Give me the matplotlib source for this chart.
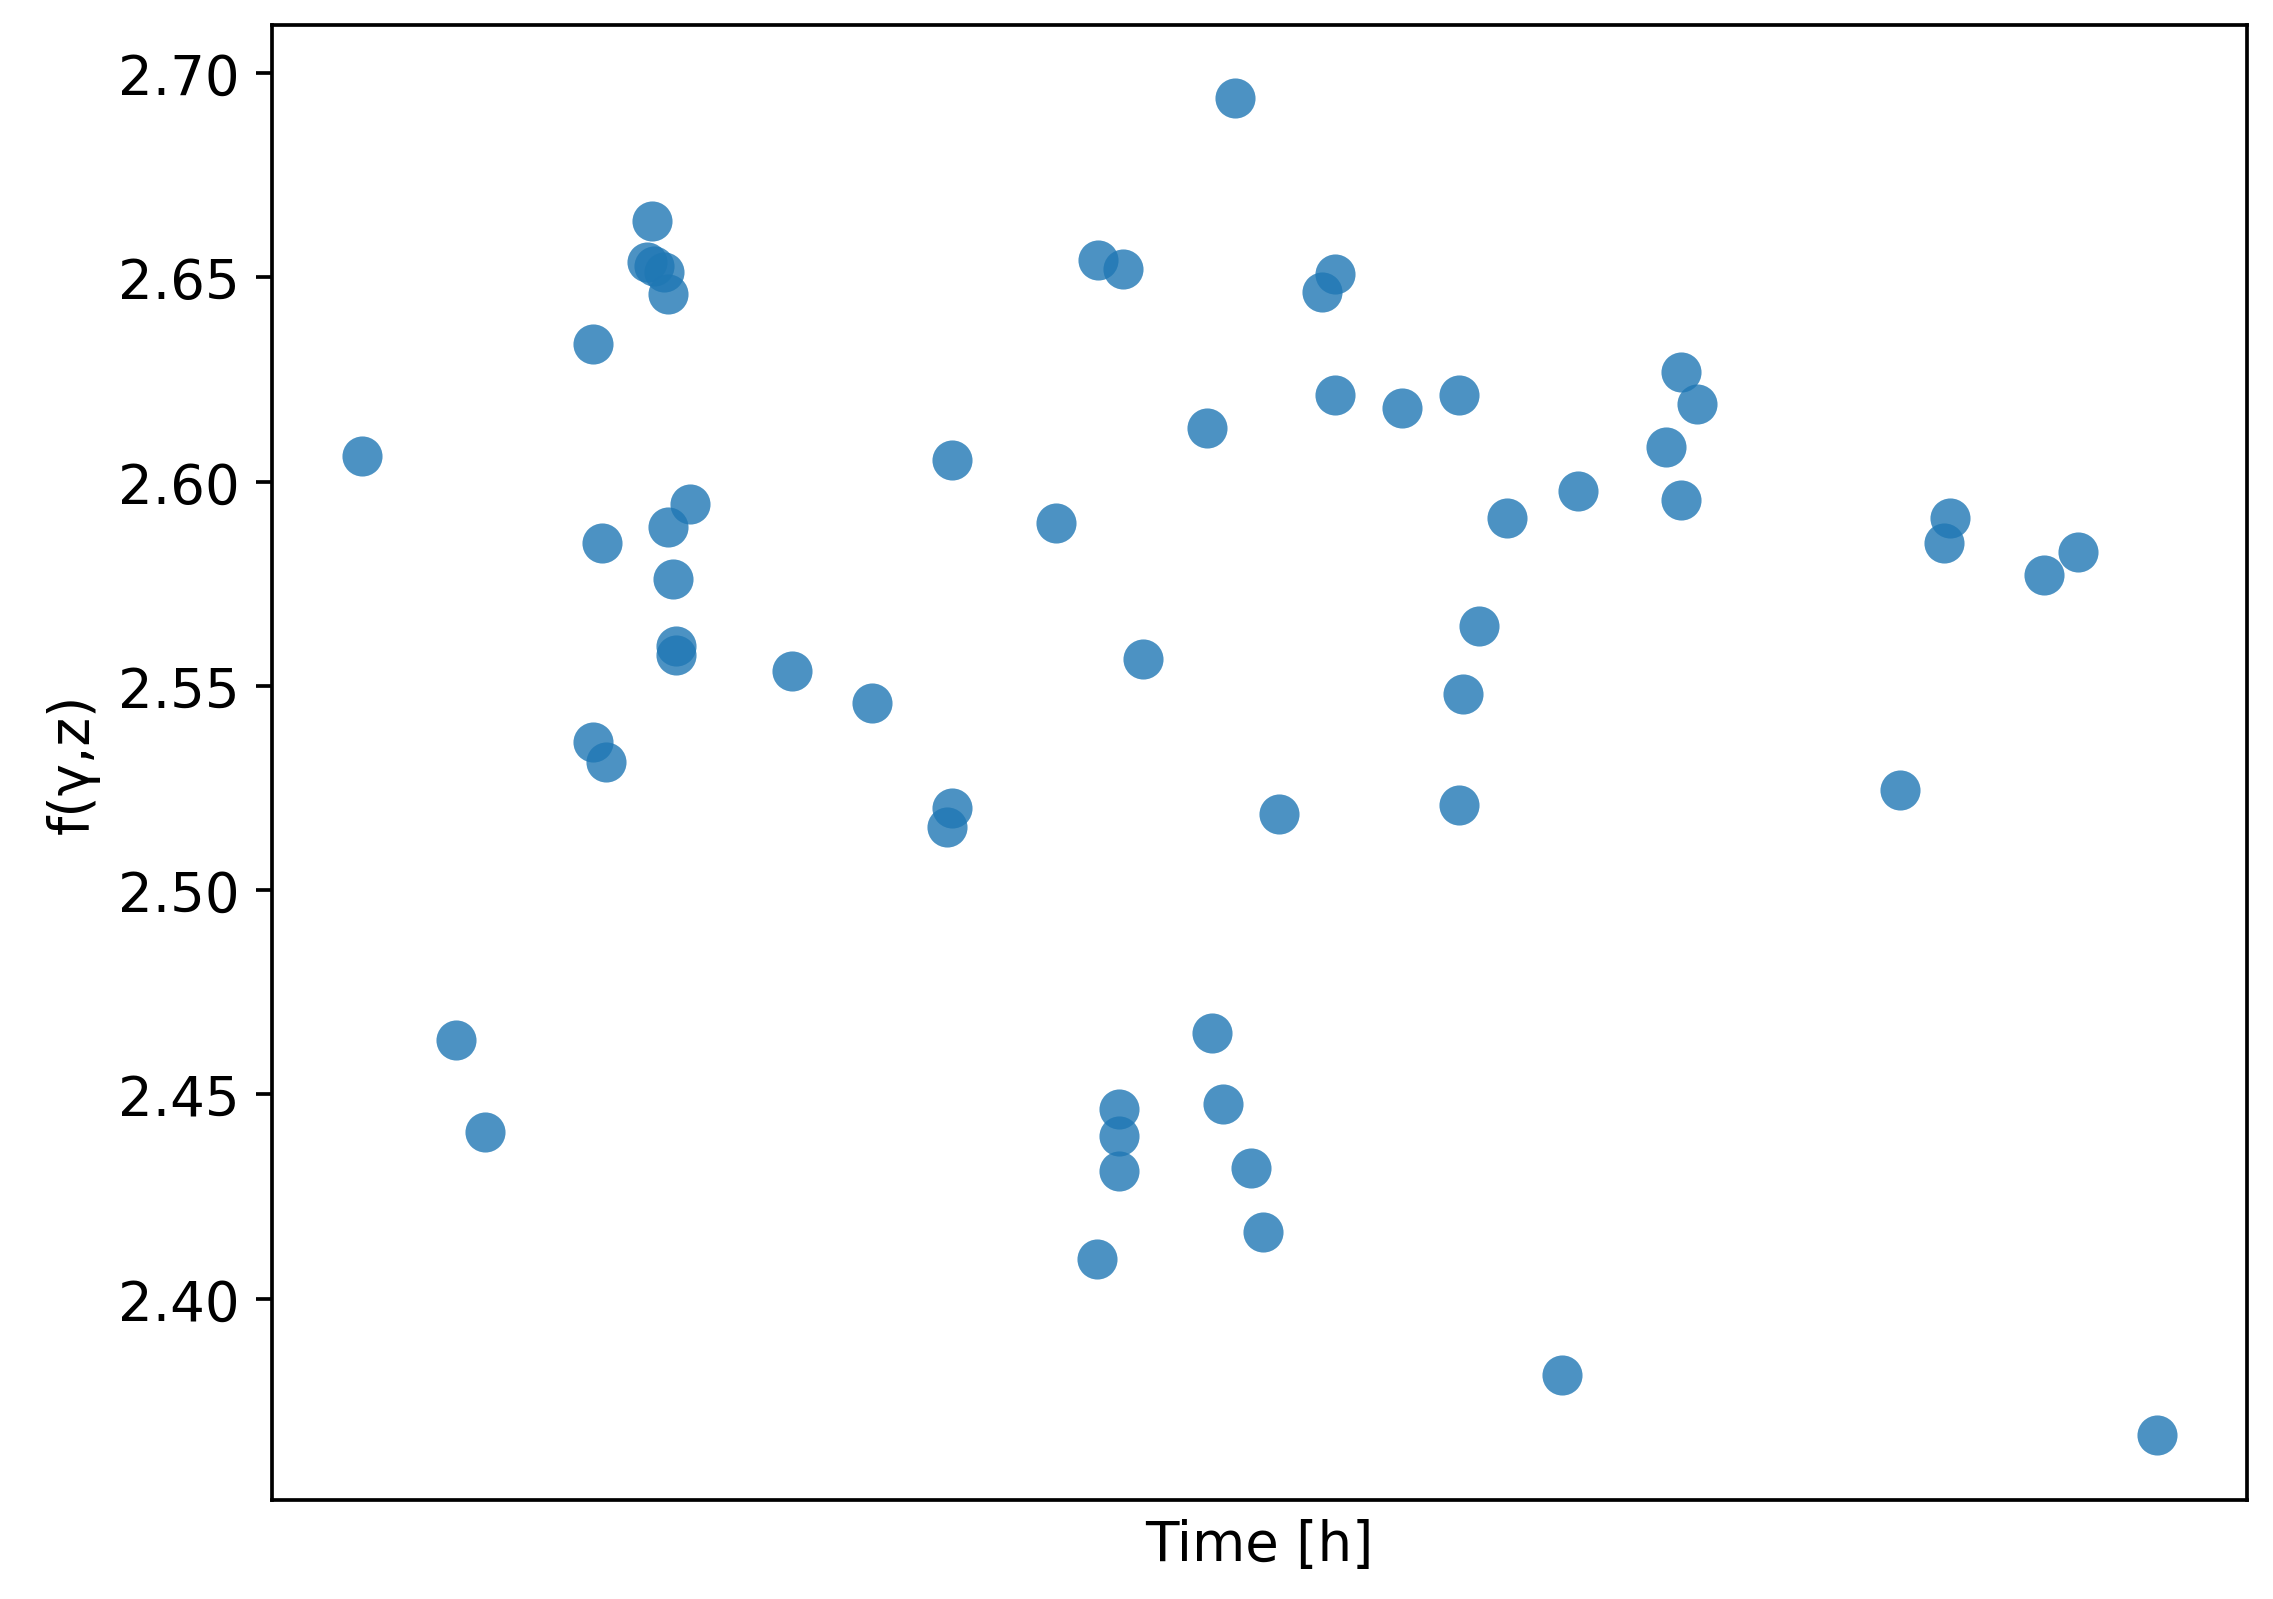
import matplotlib
matplotlib.use('Agg')
import matplotlib.pyplot as plt

# time in hours (arbitrary offset, axis ticks are hidden in the original)
time_h = [25.1, 31.6, 33.6, 41.0, 41.6, 41.0, 41.9, 45.1,
          44.7, 45.2, 45.9, 46.2, 46.2, 47.7, 46.5, 46.7, 46.7,
          54.7, 60.2, 65.7, 65.7, 65.4, 72.9, 75.8, 77.5, 78.9,
          77.2, 77.2, 77.2, 75.7, 83.3, 85.2, 83.6, 84.4, 86.3,
          87.1, 88.2, 91.2, 92.1, 92.1, 96.7, 100.6, 100.9, 102.0,
          100.6, 103.9, 107.7, 108.8, 114.9, 115.9, 117.0, 115.9,
          131.0, 134.0, 134.4, 140.9, 143.2, 148.7]
f_val = [2.6063, 2.4632, 2.4408, 2.6336, 2.5850, 2.5363, 2.5314, 2.6638,
         2.6538, 2.6528, 2.6514, 2.6460, 2.5889, 2.5946, 2.5761, 2.5598, 2.5576,
         2.5537, 2.5459, 2.6052, 2.5200, 2.5154, 2.5899, 2.6542, 2.6521, 2.5566,
         2.4465, 2.4398, 2.4312, 2.4096, 2.6130, 2.6940, 2.4650, 2.4476, 2.4320,
         2.4163, 2.5186, 2.6464, 2.6507, 2.6212, 2.6180, 2.6212, 2.5480, 2.5647,
         2.5207, 2.5910, 2.3812, 2.5978, 2.6084, 2.6269, 2.6191, 2.5956,
         2.5246, 2.5850, 2.5910, 2.5772, 2.5828, 2.3666]


def main():
    plt.rcParams['font.size'] = 11.8
    fig = plt.figure(figsize=(6.82, 4.80), dpi=333.3)
    ax = fig.add_axes([0.1197, 0.0619, 0.8689, 0.9218])
    ax.scatter(time_h, f_val, s=75, color='tab:blue', alpha=0.8, linewidths=0)
    ax.set_ylim(2.3507, 2.7117)
    ax.set_xticks([])
    ax.set_xlabel('Time [h]')
    ax.set_ylabel('f(γ,z)')
    fig.savefig('out.png', dpi=333.3)


if __name__ == '__main__':
    main()
